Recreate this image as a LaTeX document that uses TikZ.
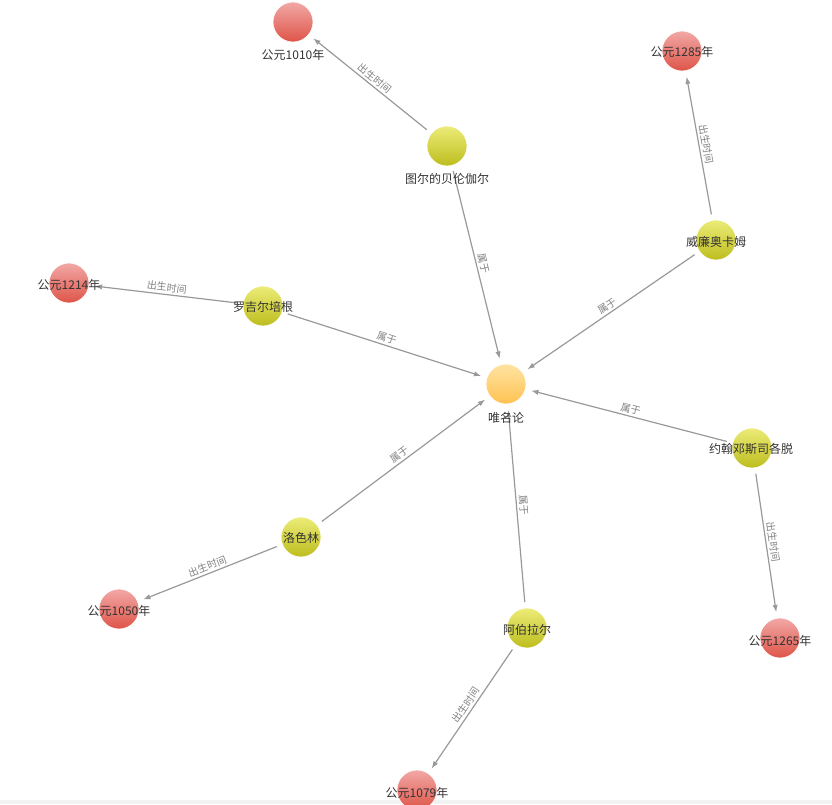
\documentclass[tikz,border=0pt]{standalone}
\usepackage{fontspec}
\newfontfamily\cjk{Noto Sans CJK SC}
\usetikzlibrary{arrows.meta}
\definecolor{edgegray}{HTML}{999999}
\definecolor{rlabcol}{HTML}{808080}
\definecolor{labcol}{HTML}{333333}
\definecolor{redtop}{HTML}{F2A8A6}
\definecolor{redbot}{HTML}{DE5448}
\definecolor{yeltop}{HTML}{ECEC78}
\definecolor{yelbot}{HTML}{BDBD1E}
\definecolor{orgtop}{HTML}{FFE3A2}
\definecolor{orgbot}{HTML}{FFC252}
\definecolor{stripcol}{HTML}{F2F2F2}
\begin{document}
\begin{tikzpicture}[x=0.75pt,y=-0.75pt,
  ball/.style={circle, minimum size=30pt, inner sep=0pt, outer sep=4.5pt, draw=white, line width=0.5pt},
  redball/.style={ball, top color=redtop, bottom color=redbot},
  yelball/.style={ball, top color=yeltop, bottom color=yelbot},
  orgball/.style={ball, top color=orgtop, bottom color=orgbot},
  lab/.style={font=\cjk\fontsize{9}{10}\selectfont, text=labcol, inner sep=0pt},
  rel/.style={draw=edgegray, line width=0.9pt, -{Latex[length=5.5pt,width=4pt]}},
  rlab/.style={font=\cjk\fontsize{7.5}{8}\selectfont, text=rlabcol, sloped, above, midway, inner sep=1.5pt}
]
\useasboundingbox (0,0) rectangle (832,804);
\fill[stripcol] (0,800) rectangle (832,804);

% circles
\node[orgball] (wml) at (506,384) {};
\node[yelball] (tuer) at (447,146) {};
\node[redball] (d1010) at (293,22) {};
\node[yelball] (weilian) at (716,240) {};
\node[redball] (d1285) at (682,51) {};
\node[yelball] (luoji) at (263,306) {};
\node[redball] (d1214) at (69,283) {};
\node[yelball] (yuehan) at (752,448) {};
\node[redball] (d1265) at (780,638) {};
\node[yelball] (luose) at (301,537) {};
\node[redball] (d1050) at (119,609) {};
\node[yelball] (abo) at (527,628) {};
\node[redball] (d1079) at (417,790) {};

% edges
\draw[rel] (tuer) -- node[rlab]{属于} (wml);
\draw[rel] (weilian) -- node[rlab]{属于} (wml);
\draw[rel] (luoji) -- node[rlab]{属于} (wml);
\draw[rel] (yuehan) -- node[rlab]{属于} (wml);
\draw[rel] (luose) -- node[rlab]{属于} (wml);
\draw[rel] (abo) -- node[rlab]{属于} (wml);
\draw[rel] (tuer) -- node[rlab]{出生时间} (d1010);
\draw[rel] (weilian) -- node[rlab]{出生时间} (d1285);
\draw[rel] (luoji) -- node[rlab]{出生时间} (d1214);
\draw[rel] (yuehan) -- node[rlab]{出生时间} (d1265);
\draw[rel] (luose) -- node[rlab]{出生时间} (d1050);
\draw[rel] (abo) -- node[rlab]{出生时间} (d1079);

% labels
\node[lab] (lwml) at (506,418) {唯名论};
\node[lab] (ltuer) at (447,179) {图尔的贝伦伽尔};
\node[lab] (l1010) at (293,55) {公元1010年};
\node[lab] (lweilian) at (716,242) {威廉奥卡姆};
\node[lab] (l1285) at (682,52) {公元1285年};
\node[lab] (lluoji) at (263,307) {罗吉尔培根};
\node[lab] (l1214) at (69,285) {公元1214年};
\node[lab] (lyuehan) at (751,449) {约翰邓斯司各脱};
\node[lab] (l1265) at (780,641) {公元1265年};
\node[lab] (lluose) at (301,538) {洛色林};
\node[lab] (l1050) at (119,611) {公元1050年};
\node[lab] (labo) at (527,630) {阿伯拉尔};
\node[lab] (l1079) at (417,793) {公元1079年};
\end{tikzpicture}
\end{document}
